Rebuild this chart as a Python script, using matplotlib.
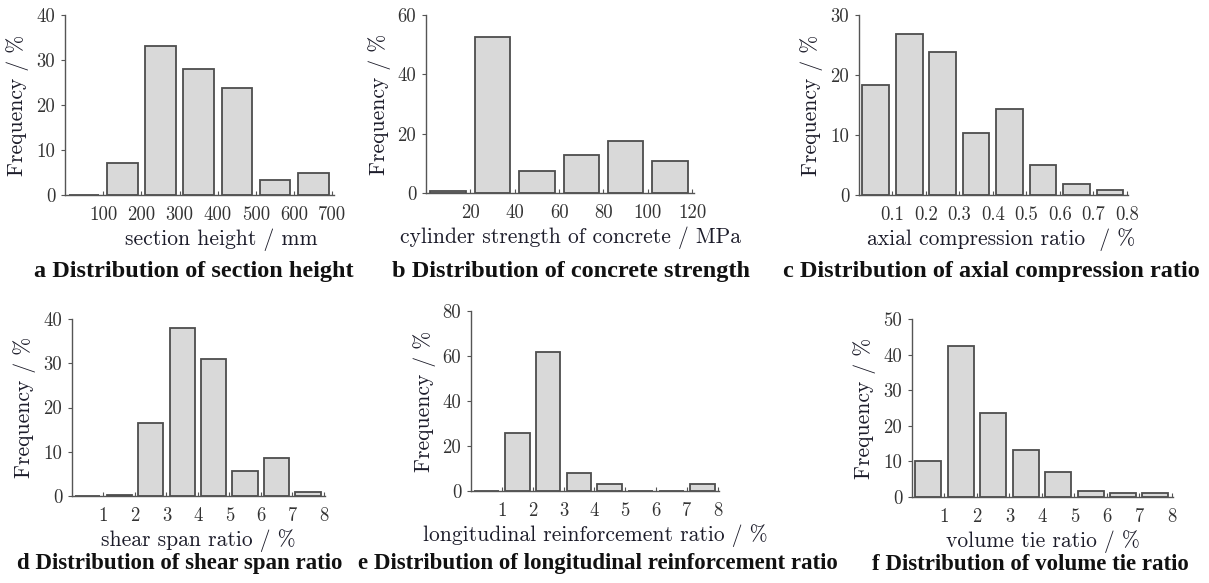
import matplotlib
matplotlib.use("Agg")
import matplotlib.pyplot as plt

plt.rcParams["axes.unicode_minus"] = False

# --- data (frequency in %) ---
height_edges = [0, 100, 200, 300, 400, 500, 600, 700]
height_freq = [0, 7.0, 33.1, 28.1, 23.7, 3.3, 4.8]

strength_edges = [0, 20, 40, 60, 80, 100, 120]
strength_freq = [0.8, 52.5, 7.4, 12.8, 17.5, 10.7]

axial_edges = [0, 0.1, 0.2, 0.3, 0.4, 0.5, 0.6, 0.7, 0.8]
axial_freq = [18.3, 26.8, 23.8, 10.4, 14.3, 5.0, 1.8, 0.9]

shear_edges = [0, 1, 2, 3, 4, 5, 6, 7, 8]
shear_freq = [0, 0.2, 16.5, 38.0, 31.0, 5.7, 8.7, 0.8]

long_edges = [0, 1, 2, 3, 4, 5, 6, 7, 8]
long_freq = [0, 26.0, 62.0, 8.0, 3.0, 0, 0, 3.0]

tie_edges = [0, 1, 2, 3, 4, 5, 6, 7, 8]
tie_freq = [10.0, 42.5, 23.5, 13.2, 7.0, 1.8, 1.1, 1.1]

panels = [
    # edges, freq, y ticks, x tick labels, xlabel, caption
    (height_edges, height_freq, [0, 10, 20, 30, 40], ["100", "200", "300", "400", "500", "600", "700"],
     "section height / mm", "a Distribution of section height"),
    (strength_edges, strength_freq, [0, 20, 40, 60], ["20", "40", "60", "80", "100", "120"],
     "cylinder strength of concrete / MPa", "b Distribution of concrete strength"),
    (axial_edges, axial_freq, [0, 10, 20, 30], ["0.1", "0.2", "0.3", "0.4", "0.5", "0.6", "0.7", "0.8"],
     "axial compression ratio  / %", "c Distribution of axial compression ratio"),
    (shear_edges, shear_freq, [0, 10, 20, 30, 40], ["1", "2", "3", "4", "5", "6", "7", "8"],
     "shear span ratio / %", "d Distribution of shear span ratio"),
    (long_edges, long_freq, [0, 20, 40, 60, 80], ["1", "2", "3", "4", "5", "6", "7", "8"],
     "longitudinal reinforcement ratio / %", "e Distribution of longitudinal reinforcement ratio"),
    (tie_edges, tie_freq, [0, 10, 20, 30, 40, 50], ["1", "2", "3", "4", "5", "6", "7", "8"],
     "volume tie ratio / %", "f Distribution of volume tie ratio"),
]

W, H = 1209, 583
# axes boxes in pixels: x0, x1, y_top, y_bottom
boxes = [
    (65, 334, 15, 195),
    (426, 694, 15, 193),
    (859, 1128, 15, 195),
    (72, 325, 319, 496),
    (471, 719, 311, 491),
    (912, 1173, 319, 497),
]
# x-label centre (axes fraction) and caption centre / size
xlabel_x = [0.58, 0.54, 0.53, 0.5, 0.5, 0.5]
caption_pos = [(194, 271), (571, 271), (991, 271), (180, 564), (598, 564), (1030, 564)]
caption_size = [17.5, 17.5, 17.5, 16.5, 16.5, 16.5]

TXT = "#1c1c2a"
AXFONT = "cmr10"
fig = plt.figure(figsize=(W / 100, H / 100), dpi=100)

for i, (edges, freq, yticks, xlabels, xlabel, caption) in enumerate(panels):
    x0, x1, yt, yb = boxes[i]
    ax = fig.add_axes([x0 / W, 1 - yb / H, (x1 - x0) / W, (yb - yt) / H])
    step = edges[1] - edges[0]
    centers = [(a + b) / 2 for a, b in zip(edges[:-1], edges[1:])]
    ax.bar(centers, freq, width=step * 0.8, color="#d9d9d9", edgecolor="#4d4d4d", linewidth=1.3)
    ax.set_xlim(edges[0], edges[-1] + step * 0.04)
    ax.set_ylim(yticks[0], yticks[-1])
    ax.set_yticks(yticks)
    ax.set_yticklabels([str(v) for v in yticks])
    ax.set_xticks(edges[1:])
    ax.set_xticklabels(xlabels)
    for s in ("top", "right"):
        ax.spines[s].set_visible(False)
    for s in ("left", "bottom"):
        ax.spines[s].set_color("#555555")
        ax.spines[s].set_linewidth(1.0)
    ax.tick_params(axis="x", direction="in", length=3, color="#555555", pad=8,
                   labelsize=13.5, labelcolor="#333333")
    ax.tick_params(axis="y", direction="out", length=3, color="#555555", pad=4,
                   labelsize=13.5, labelcolor="#333333")
    for lab in ax.get_xticklabels() + ax.get_yticklabels():
        lab.set_family(AXFONT)
    ax.set_xlabel(xlabel, fontsize=15.5, family=AXFONT, color=TXT, labelpad=3)
    ax.xaxis.label.set_x(xlabel_x[i])
    ax.set_ylabel("Frequency / %", fontsize=15.5, family=AXFONT, color=TXT, labelpad=5)
    cx, cy = caption_pos[i]
    fig.text(cx / W, 1 - cy / H, caption, ha="center", va="center",
             fontsize=caption_size[i], fontweight="bold", family="Liberation Serif", color="#111111")

fig.savefig("out.png", dpi=100)
